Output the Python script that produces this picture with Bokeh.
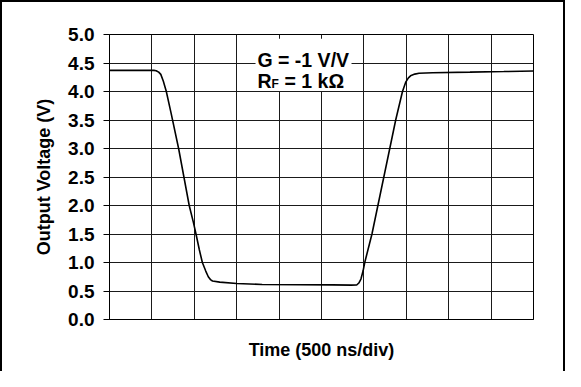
from bokeh.plotting import figure
from bokeh.models import Range1d, FixedTicker, BoxAnnotation, Label
from bokeh.embed import file_html
from bokeh.resources import INLINE

# ---- data ----
time_ns = [0, 525, 550, 580, 605, 635, 670, 725, 815, 940, 990, 1020, 1060, 1095,
           1135, 1165, 1190, 1215, 1300, 1500, 1800, 2250, 2630, 2850, 2915, 2940,
           2965, 2990, 3010, 3095, 3165, 3235, 3305, 3375, 3455, 3495, 3525, 3550,
           3600, 3650, 3810, 4250, 4650, 5000]
volts = [4.37, 4.37, 4.365, 4.34, 4.30, 4.18, 4.0, 3.63, 3.0, 2.0, 1.7, 1.5, 1.22, 1.0,
         0.85, 0.75, 0.70, 0.675, 0.655, 0.632, 0.615, 0.61, 0.607, 0.603, 0.605, 0.64,
         0.71, 0.85, 1.0, 1.5, 2.0, 2.5, 3.0, 3.5, 4.0, 4.17, 4.24, 4.275,
         4.305, 4.32, 4.33, 4.34, 4.35, 4.36]
x_grid_ticks = [0, 500, 1000, 1500, 2000, 2500, 3000, 3500, 4000, 4500, 5000]
y_ticks = [0.0, 0.5, 1.0, 1.5, 2.0, 2.5, 3.0, 3.5, 4.0, 4.5, 5.0]
y_tick_labels = ["0.0", "0.5", "1.0", "1.5", "2.0", "2.5", "3.0", "3.5", "4.0", "4.5", "5.0"]
x_title = "Time (500 ns/div)"
y_title = "Output Voltage (V)"

FONT = "Liberation Sans"

p = figure(frame_width=424, frame_height=285,
           min_border_left=107, min_border_right=30, min_border_top=32, min_border_bottom=52,
           output_backend="svg", toolbar_location=None,
           x_range=Range1d(0, 5000), y_range=Range1d(0, 5),
           styles={"border-left": "2px solid black", "border-top": "2px solid black",
                   "border-right": "2px solid black"})
p.background_fill_color = "white"
p.border_fill_color = "white"
p.outline_line_color = "black"
p.outline_line_width = 1

# grids
p.xaxis.ticker = FixedTicker(ticks=[])
p.xgrid.ticker = FixedTicker(ticks=x_grid_ticks)
p.yaxis.ticker = FixedTicker(ticks=y_ticks)
p.ygrid.ticker = FixedTicker(ticks=y_ticks)
p.yaxis.major_label_overrides = {t: l for t, l in zip(y_ticks, y_tick_labels)}
for g in (p.xgrid, p.ygrid):
    g.grid_line_color = "#1a1a1a"
    g.grid_line_width = 1
    g.grid_line_alpha = 1.0

# y axis
p.yaxis.axis_label = y_title
p.yaxis.axis_label_text_font = FONT
p.yaxis.axis_label_text_font_style = "bold"
p.yaxis.axis_label_text_font_size = "18px"
p.yaxis.axis_label_text_color = "black"
p.yaxis.axis_label_standoff = 11
p.yaxis.major_label_text_font = FONT
p.yaxis.major_label_text_font_style = "bold"
p.yaxis.major_label_text_font_size = "19px"
p.yaxis.major_label_text_color = "black"
p.yaxis.major_label_standoff = 9
p.yaxis.major_tick_out = 6
p.yaxis.major_tick_in = 0
p.yaxis.minor_tick_line_color = None
p.yaxis.axis_line_color = "black"
p.yaxis.major_tick_line_color = "black"

# x axis
p.xaxis.axis_label = x_title
p.xaxis.axis_label_text_font = FONT
p.xaxis.axis_label_text_font_style = "bold"
p.xaxis.axis_label_text_font_size = "18px"
p.xaxis.axis_label_text_color = "black"
p.xaxis.axis_label_standoff = 20
p.xaxis.major_label_standoff = 0
p.xaxis.major_tick_line_color = None
p.xaxis.minor_tick_line_color = None
p.xaxis.axis_line_color = "black"

# curve
p.line(time_ns, volts, line_color="black", line_width=1.6)

# annotation box
p.add_layout(BoxAnnotation(left=1722, right=2854, bottom=4.01, top=4.925,
                           fill_color="white", fill_alpha=1.0, line_color=None))
lab_x = 1745
p.add_layout(Label(x=lab_x, y=4.547, text="G = -1 V/V", text_font=FONT,
                   text_font_style="bold", text_font_size="19.5px", text_color="black",
                   text_align="left", text_baseline="alphabetic"))
p.add_layout(Label(x=lab_x, y=4.183, text="R", text_font=FONT,
                   text_font_style="bold", text_font_size="19.5px", text_color="black",
                   text_align="left", text_baseline="alphabetic"))
p.add_layout(Label(x=lab_x, y=4.183, x_offset=14, y_offset=-3, text="F", text_font=FONT,
                   text_font_style="bold", text_font_size="12px", text_color="black",
                   text_align="left", text_baseline="alphabetic"))
p.add_layout(Label(x=lab_x, y=4.183, x_offset=27, text="= 1 k\u03a9", text_font=FONT,
                   text_font_style="bold", text_font_size="19.5px", text_color="black",
                   text_align="left", text_baseline="alphabetic"))

open("out.html", "w").write(file_html(p, INLINE))
